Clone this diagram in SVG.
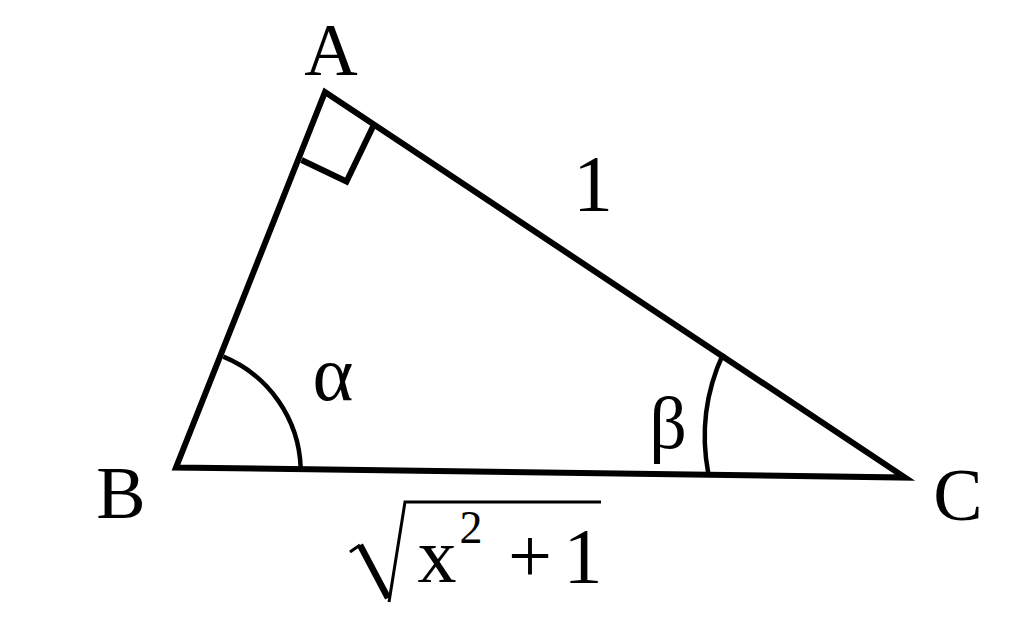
<svg xmlns="http://www.w3.org/2000/svg" width="1024" height="629" viewBox="0 0 1024 629">
<style>
.ln{fill:none;stroke:#000;stroke-width:6;stroke-linejoin:miter;stroke-linecap:butt}
.arc{fill:none;stroke:#000;stroke-width:4.5}
.t{font-family:'Liberation Serif','Times New Roman',Times,'Nimbus Roman','Nimbus Roman No9 L',FreeSerif,'DejaVu Serif','Noto Serif',serif;fill:#000;text-anchor:middle}
</style>
<rect width="1024" height="629" fill="#fff"/>
<g id="triangle">
<polygon class="ln" points="325,92 176,467.5 905,477.5"/>
<polyline class="ln" points="301.5,160 346.5,181.5 373,126.5"/>
<path class="arc" d="M223.3,356.7 A125,125 0 0 1 300.7,467.9"/>
<path class="arc" d="M708.3,473.5 A198,198 0 0 1 723.3,353.5"/>
</g>
<g id="labels">
<text class="t" x="331" y="75" font-size="74">A</text>
<text class="t" x="121" y="518" font-size="74">B</text>
<text class="t" x="958" y="520" font-size="74">C</text>
<text class="t" x="593" y="211" font-size="80">1</text>
<text class="t" x="333" y="400" font-size="78">α</text>
<text class="t" x="668" y="448" font-size="74">β</text>
</g>
<g id="sqrt">
<path d="M350,552 L360,545" fill="none" stroke="#000" stroke-width="3"/>
<path d="M360,545 L388,598" fill="none" stroke="#000" stroke-width="6.5"/>
<path d="M389,602 L405,502 L601,502" fill="none" stroke="#000" stroke-width="3"/>
<text class="t" x="437" y="582" font-size="78">x</text>
<text class="t" x="471" y="543" font-size="46">2</text>
<text class="t" x="530" y="582" font-size="78">+</text>
<text class="t" x="583" y="582" font-size="78">1</text>
</g>
</svg>
